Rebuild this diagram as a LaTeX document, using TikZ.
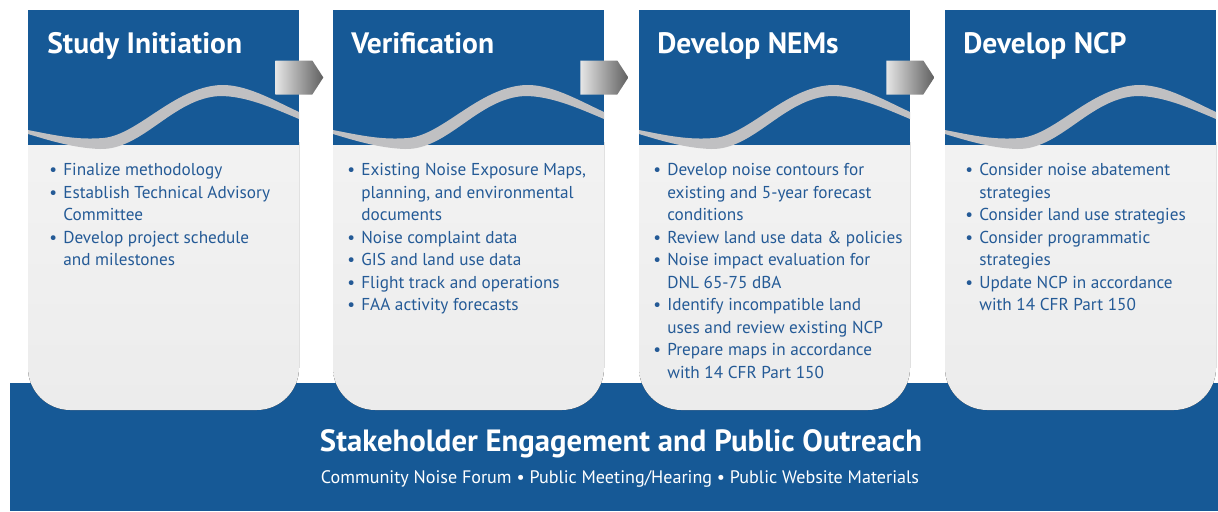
\documentclass[tikz,border=0pt]{standalone}
\usepackage{fontspec}
\setmainfont{PT Sans}
\usetikzlibrary{shapes.symbols}

\definecolor{nemblue}{RGB}{22,89,150}
\definecolor{listblue}{RGB}{36,90,150}
\definecolor{wavegray}{RGB}{192,192,194}

\newcommand{\bul}{\makebox[0.28cm][l]{\textbullet}}
\newcommand{\ind}{\hspace*{0.28cm}}

\tikzset{
  head/.style={fill=nemblue, minimum width=5.42cm, minimum height=2.7cm, inner sep=0},
  ttl/.style={text=white, font=\fontsize{16.8}{19}\selectfont\bfseries, anchor=base west, inner sep=0},
  lst/.style={text=listblue, font=\fontsize{9.8}{12.83}\selectfont, align=left, anchor=north west, inner sep=0},
  nxt/.style={signal, signal to=east, signal pointer angle=114, left color=gray!20, right color=gray!75!black,
    minimum width=0.96cm, minimum height=0.68cm, inner sep=0},
  swoosh/.pic={
    \fill[wavegray] (0,130) .. controls (30,136) and (50,140) .. (75,138)
      .. controls (110,135) and (145,88) .. (192,85)
      .. controls (218,84) and (245,100) .. (271,112)
      -- (271,119) .. controls (245,108) and (218,96) .. (192,96)
      .. controls (145,98) and (115,150) .. (72,149)
      .. controls (45,148) and (20,140) .. (0,134) -- cycle;
  }
}

\begin{document}
\begin{tikzpicture}[x=0.02cm, y=-0.02cm]
  \useasboundingbox (0,0) rectangle (1218,511);
  \fill[white] (0,0) rectangle (1218,511);
  \fill[nemblue] (10,383) rectangle (1218,511);

  \fill[top color=gray!9, bottom color=gray!15, rounded corners=24] (28,100) rectangle (299,410);
  \fill[top color=gray!9, bottom color=gray!15, rounded corners=24] (333,100) rectangle (604,410);
  \fill[top color=gray!9, bottom color=gray!15, rounded corners=24] (639,100) rectangle (910,410);
  \fill[top color=gray!9, bottom color=gray!15, rounded corners=24] (945,100) rectangle (1216,410);

  \node[head] (h1) at (163.5,77.5) {};
  \node[head] (h2) at (468.5,77.5) {};
  \node[head] (h3) at (774.5,77.5) {};
  \node[head] (h4) at (1080.5,77.5) {};

  \pic at (28,0) {swoosh};
  \pic at (333,0) {swoosh};
  \pic at (639,0) {swoosh};
  \pic at (945,0) {swoosh};

  \node[nxt] (a1) at ([xshift=-0.11cm]h1.east) {};
  \node[nxt] (a2) at ([xshift=-0.11cm]h2.east) {};
  \node[nxt] (a3) at ([xshift=-0.11cm]h3.east) {};

  \node[ttl] (t1) at (47,53) {Study Initiation};
  \node[ttl] (t2) at (351,53) {Verification};
  \node[ttl] (t3) at (657,53) {Develop NEMs};
  \node[ttl] (t4) at (963,53) {Develop NCP};

  \node[lst] (l1) at (49,163) {\bul Finalize methodology\\
    \bul Establish Technical Advisory\\ \ind Committee\\
    \bul Develop project schedule\\ \ind and milestones};
  \node[lst] (l2) at (347,163) {\bul Existing Noise Exposure Maps,\\
    \ind planning, and environmental\\ \ind documents\\
    \bul Noise complaint data\\
    \bul GIS and land use data\\
    \bul Flight track and operations\\
    \bul FAA activity forecasts};
  \node[lst] (l3) at (653,163) {\bul Develop noise contours for\\
    \ind existing and 5-year forecast\\ \ind conditions\\
    \bul Review land use data \& policies\\
    \bul Noise impact evaluation for\\ \ind DNL 65-75 dBA\\
    \bul Identify incompatible land\\ \ind uses and review existing NCP\\
    \bul Prepare maps in accordance\\ \ind with 14 CFR Part 150};
  \node[lst] (l4) at (965,163) {\bul Consider noise abatement\\ \ind strategies\\
    \bul Consider land use strategies\\
    \bul Consider programmatic\\ \ind strategies\\
    \bul Update NCP in accordance\\ \ind with 14 CFR Part 150};

  \node[text=white, font=\fontsize{17.5}{20}\selectfont\bfseries, anchor=base, inner sep=0] (eng) at (621,451)
    {Stakeholder Engagement and Public Outreach};
  \node[text=white, font=\fontsize{10.3}{12}\selectfont, anchor=base, inner sep=0] (out) at (620,483)
    {Community Noise Forum \textbullet{} Public Meeting/Hearing \textbullet{} Public Website Materials};
\end{tikzpicture}
\end{document}
